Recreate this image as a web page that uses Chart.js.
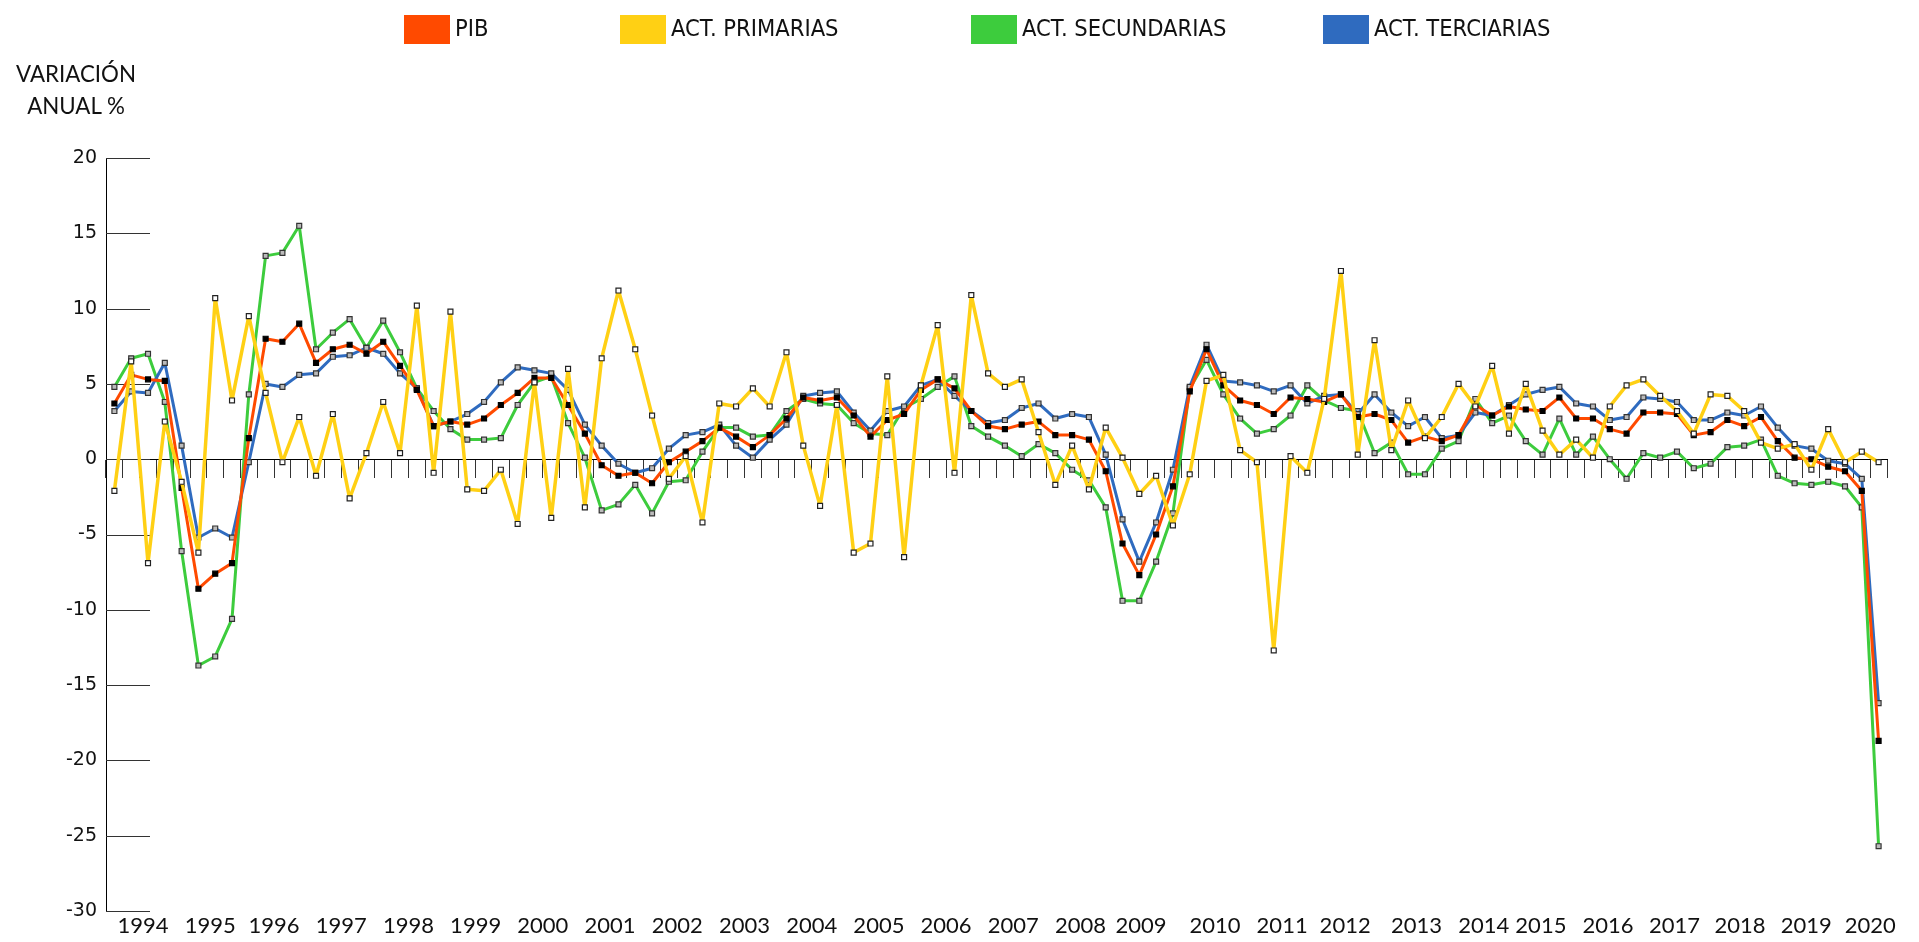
<!DOCTYPE html>
<html>
<head>
<meta charset="utf-8">
<script src="https://cdn.jsdelivr.net/npm/chart.js@4.4.1/dist/chart.umd.min.js"></script>
<style>
html,body{margin:0;padding:0;background:#fff;}
#wrap{position:relative;width:1919px;height:942px;overflow:hidden;background:#fff;}
#c{position:absolute;left:0;top:0;}
#ytitle{position:absolute;left:0;top:57px;width:152px;text-align:center;font:24px/32px Lato,"Open Sans",sans-serif;color:#111;transform:scaleX(0.93);transform-origin:76px 0;}
.lg{position:absolute;top:15px;height:29px;display:flex;align-items:center;white-space:nowrap;}
.lg .box{width:46px;height:29px;flex:none;}
.lg .txt{margin-left:5px;position:relative;top:-2px;font:23.5px "Liberation Sans Narrow","DejaVu Sans Condensed",sans-serif;color:#111;}
</style>
</head>
<body>
<div id="wrap">
  <canvas id="c" width="1919" height="942"></canvas>
  <div id="ytitle">VARIACIÓN<br>ANUAL %</div>
  <div id="legend"></div>
</div>
<script>
// ---- DATA ----
const years = [1994,1995,1996,1997,1998,1999,2000,2001,2002,2003,2004,2005,2006,2007,2008,2009,2010,2011,2012,2013,2014,2015,2016,2017,2018,2019,2020];
const quarterNames = ['T1','T2','T3','T4'];
const seriesNames = ['PIB','ACT. PRIMARIAS','ACT. SECUNDARIAS','ACT. TERCIARIAS'];
const yTicks = [20,15,10,5,0,-5,-10,-15,-20,-25,-30];

const pib = [
  3.7, 5.6, 5.3, 5.2,   -1.9, -8.6, -7.6, -6.9,   1.4, 8.0, 7.8, 9.0,   6.4, 7.3, 7.6, 7.0,
  7.8, 6.2, 4.6, 2.2,   2.5, 2.3, 2.7, 3.6,   4.4, 5.4, 5.4, 3.6,   1.7, -0.4, -1.1, -0.9,
  -1.6, -0.2, 0.5, 1.2,   2.1, 1.5, 0.8, 1.6,   2.7, 4.1, 3.9, 4.1,   2.9, 1.5, 2.6, 3.0,
  4.6, 5.3, 4.7, 3.2,   2.2, 2.0, 2.3, 2.5,   1.6, 1.6, 1.3, -0.8,   -5.6, -7.7, -5.0, -1.8,
  4.5, 7.3, 4.9, 3.9,   3.6, 3.0, 4.1, 4.0,   3.8, 4.3, 2.8, 3.0,   2.6, 1.1, 1.5, 1.2,
  1.6, 3.6, 2.9, 3.5,   3.3, 3.2, 4.1, 2.7,   2.7, 2.0, 1.7, 3.1,   3.1, 3.0, 1.6, 1.8,
  2.6, 2.2, 2.8, 1.2,   0.1, 0.0, -0.5, -0.8,   -2.1, -18.7
];
const primarias = [
  -2.1, 6.5, -6.9, 2.5,   -1.5, -6.2, 10.7, 3.9,   9.5, 4.4, -0.2, 2.8,   -1.1, 3.0, -2.6, 0.4,
  3.8, 0.4, 10.2, -0.9,   9.8, -2.0, -2.1, -0.7,   -4.3, 5.1, -3.9, 6.0,   -3.2, 6.7, 11.2, 7.3,
  2.9, -1.3, 0.2, -4.2,   3.7, 3.5, 4.7, 3.5,   7.1, 0.9, -3.1, 3.6,   -6.2, -5.6, 5.5, -6.5,
  4.9, 8.9, -0.9, 10.9,   5.7, 4.8, 5.3, 1.8,   -1.7, 0.9, -2.0, 2.1,   0.1, -2.3, -1.1, -4.4,
  -1.0, 5.2, 5.6, 0.6,   -0.2, -12.7, 0.2, -0.9,   4.0, 12.5, 0.3, 7.9,   0.6, 3.9, 1.4, 2.8,
  5.0, 3.5, 6.2, 1.7,   5.0, 1.9, 0.3, 1.3,   0.1, 3.5, 4.9, 5.3,   4.2, 3.2, 1.7, 4.3,
  4.2, 3.2, 1.1, 0.7,   1.0, -0.7, 2.0, -0.2,   0.5, -0.2
];
const secundarias = [
  4.8, 6.7, 7.0, 3.8,   -6.1, -13.7, -13.1, -10.6,   4.3, 13.5, 13.7, 15.5,   7.3, 8.4, 9.3, 7.4,
  9.2, 7.1, 4.7, 3.2,   2.0, 1.3, 1.3, 1.4,   3.6, 5.1, 5.5, 2.4,   0.1, -3.4, -3.0, -1.7,
  -3.6, -1.5, -1.4, 0.5,   2.1, 2.1, 1.5, 1.6,   3.2, 4.0, 3.7, 3.6,   2.4, 1.7, 1.6, 3.4,
  4.0, 4.8, 5.5, 2.2,   1.5, 0.9, 0.2, 1.0,   0.4, -0.7, -1.4, -3.2,   -9.4, -9.4, -6.8, -3.6,
  4.7, 6.6, 4.3, 2.7,   1.7, 2.0, 2.9, 4.9,   3.9, 3.4, 3.2, 0.4,   1.1, -1.0, -1.0, 0.7,
  1.2, 4.0, 2.4, 2.9,   1.2, 0.3, 2.7, 0.3,   1.5, 0.0, -1.3, 0.4,   0.1, 0.5, -0.6, -0.3,
  0.8, 0.9, 1.3, -1.1,   -1.6, -1.7, -1.5, -1.8,   -3.2, -25.7
];
const terciarias = [
  3.2, 4.5, 4.4, 6.4,   0.9, -5.2, -4.6, -5.2,   -0.2, 5.0, 4.8, 5.6,   5.7, 6.8, 6.9, 7.4,
  7.0, 5.7, 4.7, 2.2,   2.5, 3.0, 3.8, 5.1,   6.1, 5.9, 5.7, 4.6,   2.3, 0.9, -0.3, -0.9,
  -0.6, 0.7, 1.6, 1.8,   2.3, 0.9, 0.1, 1.3,   2.3, 4.2, 4.4, 4.5,   3.1, 1.9, 3.2, 3.5,
  4.9, 5.3, 4.2, 3.2,   2.4, 2.6, 3.4, 3.7,   2.7, 3.0, 2.8, 0.3,   -4.0, -6.8, -4.2, -0.7,
  4.8, 7.6, 5.2, 5.1,   4.9, 4.5, 4.9, 3.7,   4.2, 4.3, 3.0, 4.3,   3.1, 2.2, 2.8, 1.4,
  1.6, 3.1, 2.9, 3.6,   4.3, 4.6, 4.8, 3.7,   3.5, 2.6, 2.8, 4.1,   4.0, 3.8, 2.6, 2.6,
  3.1, 2.9, 3.5, 2.1,   0.9, 0.7, -0.1, -0.3,   -1.3, -16.2
];

// ---- derived categories (quarter labels) ----
const categories = pib.map((_, i) => years[Math.floor(i / 4)] + '-' + quarterNames[i % 4]);
// small horizontal nudges (in category units) matching the hand-placed year labels of the original
const yearLabelNudge = {1994: 0.2, 1995: 0.2, 2009: -0.4, 2012: -0.25, 2015: -0.6, 2016: -0.6, 2017: -0.65, 2018: -0.75, 2019: -0.8};
const yearCenters = years.map((y, k) => {
  const first = 4 * k;
  const last = Math.min(4 * k + 3, categories.length - 1);
  return (first + last) / 2 + (yearLabelNudge[y] || 0);
});

// ---- styles ----
const colors = ['#FF4A00', '#FFD014', '#3DCC3D', '#2F6BBF'];

// ---- HTML legend ----
const legendLefts = [404, 620, 971, 1323];
const legendEl = document.getElementById('legend');
seriesNames.forEach((name, i) => {
  const item = document.createElement('div');
  item.className = 'lg';
  item.style.left = legendLefts[i] + 'px';
  const box = document.createElement('div');
  box.className = 'box';
  box.style.background = colors[i];
  const txt = document.createElement('span');
  txt.className = 'txt';
  txt.textContent = name;
  item.appendChild(box);
  item.appendChild(txt);
  legendEl.appendChild(item);
});

// short gridline stubs next to the y axis
const stubGrid = {
  id: 'stubGrid',
  beforeDatasetsDraw(chart) {
    const {ctx, chartArea, scales} = chart;
    const y = scales.y;
    ctx.save();
    ctx.strokeStyle = '#333';
    ctx.lineWidth = 1;
    y.ticks.forEach(t => {
      const py = Math.round(y.getPixelForValue(t.value)) + 0.5;
      ctx.beginPath();
      ctx.moveTo(chartArea.left, py);
      ctx.lineTo(chartArea.left + 44, py);
      ctx.stroke();
    });
    ctx.restore();
  }
};

const pointCommon = {pointStyle: 'rect', pointRadius: 3.5, pointHoverRadius: 3.5, pointBorderWidth: 1.2, tension: 0, fill: false,
  borderJoinStyle: 'round', borderCapStyle: 'round', xAxisID: 'x', yAxisID: 'y'};

new Chart(document.getElementById('c'), {
  type: 'line',
  data: {
    labels: categories,
    datasets: [
      Object.assign({label: seriesNames[0], data: pib, borderColor: colors[0], backgroundColor: colors[0], borderWidth: 3,
        pointBackgroundColor: '#000', pointBorderColor: '#000', order: 1}, pointCommon),
      Object.assign({label: seriesNames[1], data: primarias, borderColor: colors[1], backgroundColor: colors[1], borderWidth: 3.5,
        pointBackgroundColor: '#fff', pointBorderColor: '#222', order: 0}, pointCommon),
      Object.assign({label: seriesNames[2], data: secundarias, borderColor: colors[2], backgroundColor: colors[2], borderWidth: 3,
        pointBackgroundColor: '#bbb', pointBorderColor: '#333', order: 3}, pointCommon),
      Object.assign({label: seriesNames[3], data: terciarias, borderColor: colors[3], backgroundColor: colors[3], borderWidth: 3,
        pointBackgroundColor: '#bbb', pointBorderColor: '#333', order: 2}, pointCommon)
    ]
  },
  options: {
    responsive: false,
    animation: false,
    devicePixelRatio: 1,
    layout: {padding: {top: 158, right: 32, bottom: 0, left: 0}},
    plugins: {legend: {display: false}, tooltip: {enabled: false}, title: {display: false}},
    events: [],
    scales: {
      x: {
        type: 'category', axis: 'x', position: {y: 0}, offset: true,
        grid: {offset: true, drawOnChartArea: false, drawTicks: true, tickLength: 18, color: '#333', lineWidth: 1},
        border: {display: true, color: '#000', width: 1},
        ticks: {display: false}
      },
      x2: {
        type: 'linear', axis: 'x', position: 'bottom',
        min: -0.5, max: categories.length - 0.5,
        grid: {display: false, drawTicks: false},
        border: {display: false},
        afterBuildTicks: s => { s.ticks = yearCenters.map(v => ({value: v})); },
        ticks: {autoSkip: false, maxRotation: 0, minRotation: 0, padding: 2, color: '#111',
          font: {family: 'Lato', size: 22}, callback: (v, i) => String(years[i])},
        afterFit: s => { s.height = 31; s.paddingLeft = 0; s.paddingRight = 0; }
      },
      y: {
        type: 'linear', position: 'left', min: -30, max: 20,
        afterBuildTicks: s => { s.ticks = yTicks.map(v => ({value: v})); },
        ticks: {padding: 9, color: '#111', font: {family: 'DejaVu Sans', size: 19}},
        grid: {display: false, drawTicks: false},
        border: {display: true, color: '#000', width: 1},
        afterFit: s => { s.width = 106; s.paddingTop = 0; s.paddingBottom = 0; }
      }
    }
  },
  plugins: [stubGrid]
});
</script>
</body>
</html>
